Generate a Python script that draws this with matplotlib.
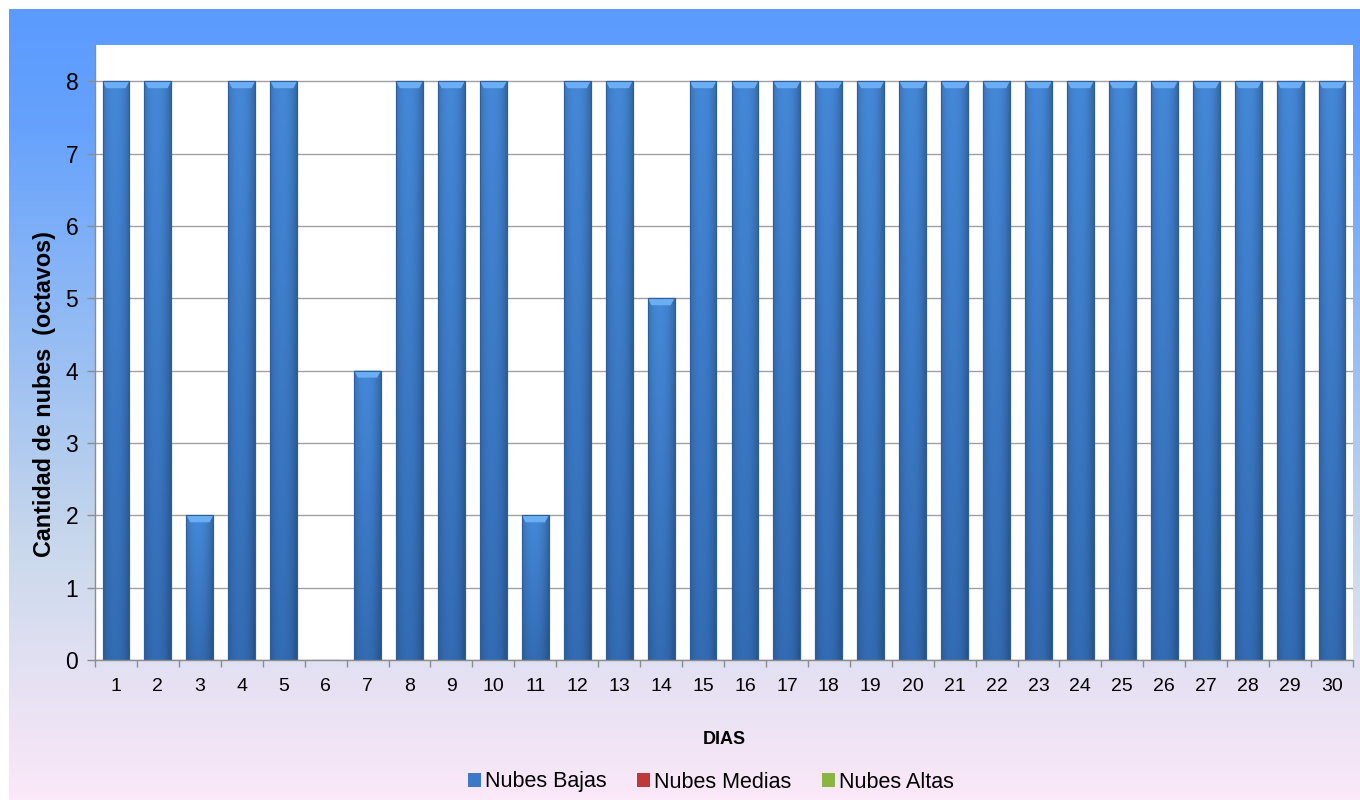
import numpy as np
import matplotlib
matplotlib.use("Agg")
import matplotlib.pyplot as plt
from matplotlib.patches import Patch, Polygon, Rectangle
from matplotlib.colors import LinearSegmentedColormap

plt.rcParams['font.family'] = ['Liberation Sans', 'DejaVu Sans']

dias = [str(i) for i in range(1, 31)]
nubes_bajas = [8, 8, 2, 8, 8, 0, 4, 8, 8, 8, 2, 8, 8, 5, 8,
               8, 8, 8, 8, 8, 8, 8, 8, 8, 8, 8, 8, 8, 8, 8]
nubes_medias = [0] * 30
nubes_altas = [0] * 30
series_names = ["Nubes Bajas", "Nubes Medias", "Nubes Altas"]
series_colors = ["#3C78C8", "#C0393A", "#8CB440"]

W, H = 1360, 800
fig = plt.figure(figsize=(W / 100, H / 100), dpi=100)
fig.patch.set_facecolor("white")

# background gradient
bg = fig.add_axes([9 / W, 0, 1 - 9 / W, 1 - 9 / H], zorder=0)
bg_cmap = LinearSegmentedColormap.from_list(
    "bg", [(0.0, "#5B9BFF"), (0.15, "#66A2FC"), (0.45, "#9CC0F2"),
           (0.68, "#C9D8EC"), (0.82, "#E0E0F2"), (1.0, "#FBE8F8")])
grad = np.linspace(0, 1, 256).reshape(-1, 1)
bg.imshow(grad, aspect="auto", cmap=bg_cmap, extent=[0, 1, 0, 1], origin="upper")
bg.axis("off")

ax = fig.add_axes([95 / W, 1 - 660 / H, (1353 - 95) / W, (660 - 45) / H], zorder=1)
ax.set_facecolor("white")

x = np.arange(len(dias))
width = 0.64
bars = ax.bar(x, nubes_bajas, width, color=series_colors[0], zorder=2,
              edgecolor="#2B5A96", linewidth=0.8)
ax.bar(x, nubes_medias, width, bottom=nubes_bajas, color=series_colors[1], zorder=2)
ax.bar(x, nubes_altas, width, bottom=np.array(nubes_bajas) + np.array(nubes_medias),
       color=series_colors[2], zorder=2)

ax.set_xlim(-0.5, len(dias) - 0.5)
ax.set_ylim(0, 8.5)

# cylinder-like shading for bars
hx = np.linspace(0, 1, 64)
prof = 1 - 0.9 * np.abs(hx - 0.45) ** 2.2
vy = np.linspace(0, 1, 128).reshape(-1, 1)
base_top = np.array([0x45, 0x88, 0xD8]) / 255
base_bot = np.array([0x33, 0x6C, 0xB4]) / 255
ppu = (660 - 81) / 8.0  # pixels per unit
for p in bars:
    h = p.get_height()
    if h <= 0:
        continue
    x0 = p.get_x()
    x1 = x0 + p.get_width()
    col = base_bot + (base_top - base_bot) * vy  # vy=0 bottom
    img = col[:, None, :] * prof[None, :, None]
    img = np.clip(img, 0, 1)
    im = ax.imshow(img, extent=[x0, x1, 0, h], origin="lower", aspect="auto",
                   zorder=2.1, interpolation="bilinear")
    im.set_clip_path(p)
    # top bevel highlight
    cap = 7 / ppu
    inset = p.get_width() * 0.14
    ax.add_patch(Polygon([[x0, h], [x1, h], [x1 - inset, h - cap], [x0 + inset, h - cap]],
                         closed=True, facecolor="#6CAEF4", edgecolor="none", zorder=2.2))
    ax.add_patch(Rectangle((x0, 0), p.get_width(), h, facecolor="none",
                           edgecolor="#2D5D9A", linewidth=0.8, zorder=2.3))

ax.set_xlim(-0.5, len(dias) - 0.5)
ax.set_ylim(0, 8.5)

ax.set_yticks(range(0, 9))
ax.yaxis.grid(True, color="#A0A0A0", linewidth=1.0, zorder=1)
ax.set_axisbelow(True)
ax.set_xticks(x)
ax.set_xticklabels(dias, fontsize=14)
ax.set_xticks(np.arange(-0.5, len(dias), 1), minor=True)
ax.tick_params(axis="x", which="major", length=0, pad=13)
ax.tick_params(axis="x", which="minor", length=5, color="#8C8C8C", width=1)
ax.tick_params(axis="y", length=6, color="#8C8C8C", width=1, labelsize=16.5, pad=6)

for s in ["top", "right"]:
    ax.spines[s].set_visible(False)
for s in ["left", "bottom"]:
    ax.spines[s].set_color("#8C8C8C")
    ax.spines[s].set_linewidth(1.0)

ax.set_ylabel("Cantidad de nubes  (octavos)", fontsize=16.8, fontweight="bold")
ax.yaxis.set_label_coords(-0.031, 0.4325)
ax.set_xlabel("DIAS", fontsize=13, fontweight="bold", labelpad=26)

handles = [Patch(facecolor=c, edgecolor="none") for c in series_colors]
fig.legend(handles, series_names, loc="center", bbox_to_anchor=(711 / W, 1 - 782 / H),
           ncol=3, frameon=False, fontsize=15.5, handlelength=0.6, handleheight=0.6,
           handletextpad=0.2, columnspacing=1.4)

fig.savefig("out.png", dpi=100)
